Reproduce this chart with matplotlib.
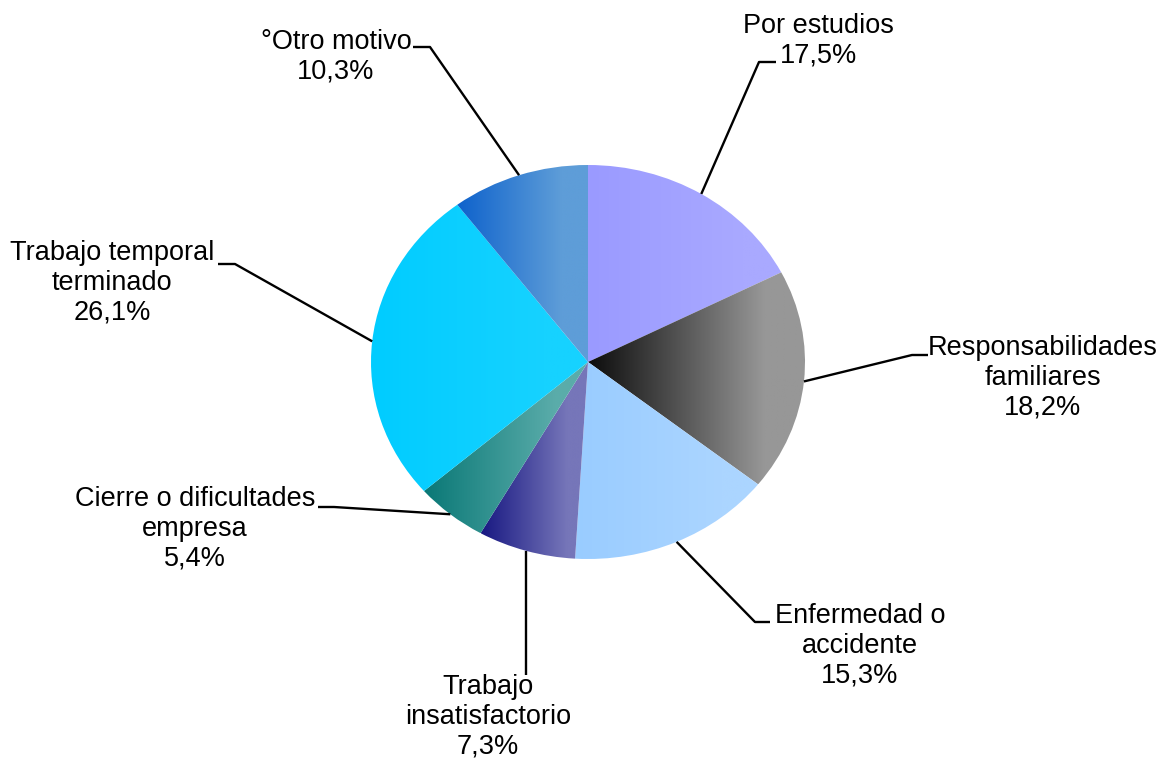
import numpy as np
import matplotlib
matplotlib.use("Agg")
import matplotlib.pyplot as plt
from matplotlib.colors import LinearSegmentedColormap

categories = ["Por estudios", "Responsabilidades\nfamiliares", "Enfermedad o\naccidente",
              "Trabajo\ninsatisfactorio", "Cierre o dificultades\nempresa",
              "Trabajo temporal\nterminado", "°Otro motivo"]
values = [17.5, 18.2, 15.3, 7.3, 5.4, 26.1, 10.3]
value_labels = ["17,5%", "18,2%", "15,3%", "7,3%", "5,4%", "26,1%", "10,3%"]

grad_left = ["#9a9aff", "#0c0c0c", "#99ccff", "#181882", "#0a7876", "#00ccff", "#0e62cc"]
grad_right = ["#a9a9ff", "#979797", "#abd5ff", "#7676b9", "#5aacaa", "#16d2ff", "#5e9dd8"]

plt.rcParams['font.family'] = ['Liberation Sans', 'DejaVu Sans']

W, H = 1160, 759
fig = plt.figure(figsize=(W / 100, H / 100), dpi=100)
ax = fig.add_axes([0, 0, 1, 1])

cx, cy, rx, ry = 588, 362, 217, 197

wedges, _ = ax.pie(values, startangle=90, counterclock=False, radius=1,
                   wedgeprops=dict(linewidth=0))
ax.set_aspect('auto')

for w, cl, cr in zip(wedges, grad_left, grad_right):
    v = w.get_path().vertices
    x0, x1 = v[:, 0].min(), v[:, 0].max()
    y0, y1 = v[:, 1].min(), v[:, 1].max()
    cmap = LinearSegmentedColormap.from_list("g", [(0, cl), (0.8, cr), (1, cr)])
    grad = np.linspace(0, 1, 256).reshape(1, -1)
    w.set_facecolor("none")
    im = ax.imshow(grad, cmap=cmap, extent=(x0, x1, y0, y1), aspect='auto',
                   interpolation='bilinear', zorder=1)
    im.set_clip_path(w)


def px2d(px, py):
    return ((px - cx) / rx, (cy - py) / ry)


# label text centre (px), elbow point (px), horizontal tail end (px)
layout = [
    dict(text=(818, 41), elbow=(759, 62), tail=(776, 62)),
    dict(text=(1043, 378), elbow=(912, 355), tail=(928, 355)),
    dict(text=(860, 646), elbow=(755, 622), tail=(770, 622)),
    dict(text=(488, 717), elbow=(525, 675), tail=None),
    dict(text=(195, 529), elbow=(334, 507), tail=(318, 507)),
    dict(text=(112, 283), elbow=(235, 264), tail=(218, 264)),
    dict(text=(336, 57), elbow=(430, 47), tail=(413, 47)),
]

for w, cat, vl, lay in zip(wedges, categories, value_labels, layout):
    ang = np.deg2rad((w.theta1 + w.theta2) / 2)
    ex, ey = np.cos(ang), np.sin(ang)
    elx, ely = px2d(*lay["elbow"])
    if lay["tail"] is None:
        elx = ex
    xs = [ex, elx]
    ys = [ey, ely]
    if lay["tail"] is not None:
        tx, ty = px2d(*lay["tail"])
        xs.append(tx)
        ys.append(ely)
    ax.plot(xs, ys, color="black", lw=1.7, solid_capstyle='butt', zorder=3)
    lx, ly = px2d(*lay["text"])
    ax.text(lx, ly, cat + "\n" + vl, ha="center", va="center", fontsize=19.5,
            linespacing=1.18, color="black", zorder=4)

ax.set_xlim(-cx / rx, (W - cx) / rx)
ax.set_ylim(-(H - cy) / ry, cy / ry)
ax.axis("off")

fig.savefig("out.png", dpi=100, facecolor="white")
